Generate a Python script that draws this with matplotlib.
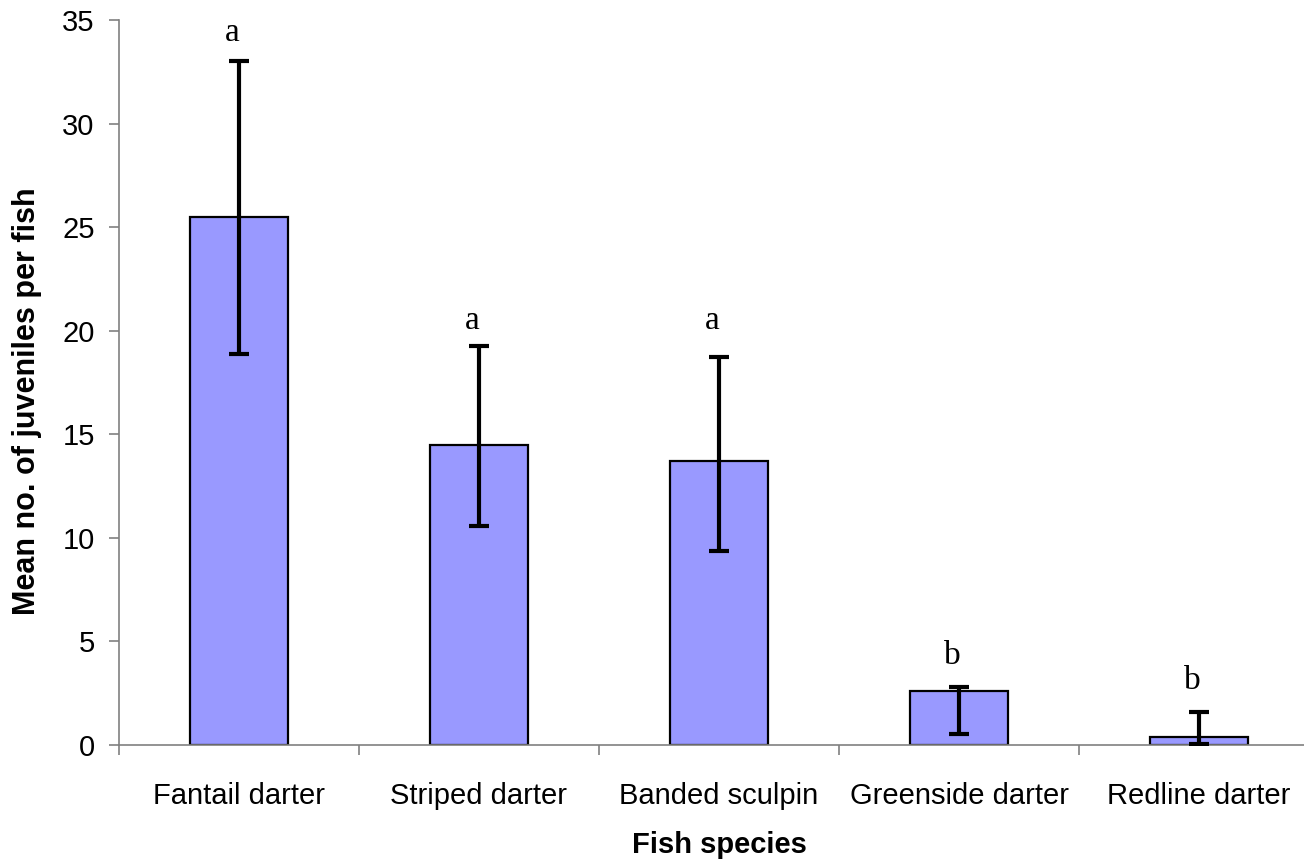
import numpy as np
import matplotlib.pyplot as plt

species = ['Fantail darter', 'Striped darter', 'Banded sculpin', 'Greenside darter', 'Redline darter']
mean_juv = [25.5, 14.5, 13.7, 2.6, 0.4]
err_low = [6.6, 3.95, 4.35, 2.05, 0.37]
err_high = [7.5, 4.75, 5.05, 0.2, 1.2]
letters = ['a', 'a', 'a', 'b', 'b']
letter_y = [34.4, 20.5, 20.5, 4.3, 3.1]

plt.rcParams['font.family'] = ['Liberation Sans', 'DejaVu Sans']

fig = plt.figure(figsize=(13.04, 8.61), dpi=100)
# axis runs past the right edge of the figure, like the original layout
ax = fig.add_axes([119/1304, 116/861, 1200/1304, 725/861])

x = np.arange(len(species))
ax.bar(x, mean_juv, width=0.41, color='#9999ff', edgecolor='black', linewidth=1.6, zorder=2)
ax.errorbar(x, mean_juv, yerr=[err_low, err_high], fmt='none', ecolor='black',
            elinewidth=3, capsize=7, capthick=3, zorder=3)

# significance letters, nudged slightly left of the bar centre
for xi, lab, ly in zip(x, letters, letter_y):
    ax.annotate(lab, (xi, ly), xytext=(-5, 0), textcoords='offset points',
                ha='center', va='center', fontsize=24, family='Liberation Serif')

ax.set_xlim(-0.5, len(species) - 0.5)
ax.set_ylim(0, 35)
ax.set_yticks(np.arange(0, 36, 5))
ax.set_xticks(np.arange(-0.5, len(species), 1.0))
ax.set_xticklabels([])
ax.set_xticks(x, minor=True)
ax.set_xticklabels(species, minor=True)
ax.tick_params(axis='x', which='minor', length=0, pad=27, labelsize=21)
ax.tick_params(axis='x', which='major', length=7.5, width=1.2, color='#808080', direction='out')
ax.tick_params(axis='y', length=7.5, width=1.2, color='#808080', direction='out', labelsize=21, pad=10)

for s in ['top', 'right']:
    ax.spines[s].set_visible(False)
for s in ['left', 'bottom']:
    ax.spines[s].set_color('#808080')
    ax.spines[s].set_linewidth(1.2)

ax.set_xlabel('Fish species', fontsize=21, fontweight='bold', labelpad=15)
ax.set_ylabel('Mean no. of juveniles per fish', fontsize=22, fontweight='bold')
ax.yaxis.set_label_coords(-0.064, 0.4745)

fig.savefig('out.png', dpi=100)
